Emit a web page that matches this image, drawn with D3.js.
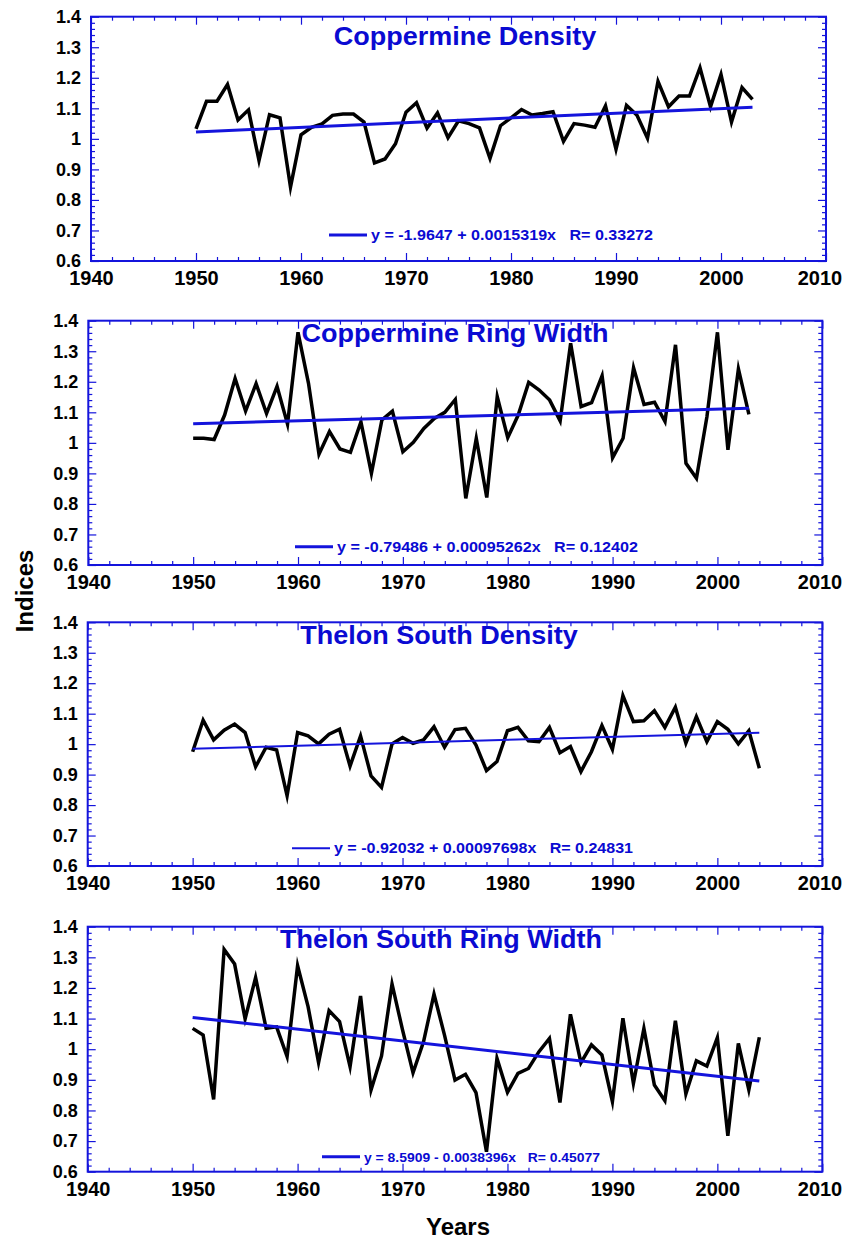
<!DOCTYPE html>
<html><head><meta charset="utf-8">
<script src="https://cdn.jsdelivr.net/npm/d3@7"></script>
<style>
body{margin:0;background:#fff}
text{font-family:"Liberation Sans",Arial,Helvetica,sans-serif;font-weight:bold}
</style>
</head><body>
<svg id="c" width="845" height="1239"></svg>
<script>
// ---------------- data ----------------
const titles = ["Coppermine Density", "Coppermine Ring Width", "Thelon South Density", "Thelon South Ring Width"];
const startYears = [1950, 1950, 1950, 1950];

const copDensity = [
 1.033,1.123,1.123,1.178,1.062,1.095,0.929,1.079,1.069,0.842,
 1.013,1.038,1.049,1.077,1.081,1.081,1.055,0.921,0.934,0.984,
 1.087,1.118,1.035,1.085,1.004,1.059,1.050,1.036,0.936,1.043,
 1.069,1.096,1.078,1.083,1.089,0.992,1.050,1.045,1.038,1.108,
 0.966,1.110,1.077,1.002,1.188,1.105,1.140,1.140,1.233,1.105,
 1.211,1.055,1.168,1.129];
const copRingWidth = [
 1.015,1.015,1.011,1.091,1.211,1.104,1.194,1.096,1.185,1.061,
 1.362,1.195,0.963,1.037,0.980,0.969,1.069,0.900,1.075,1.104,
 0.971,1.002,1.047,1.080,1.100,1.142,0.818,1.015,0.821,1.151,
 1.017,1.091,1.198,1.173,1.140,1.072,1.326,1.119,1.132,1.220,
 0.951,1.015,1.246,1.126,1.133,1.070,1.321,0.933,0.884,1.086,
 1.362,0.977,1.242,1.093];
const thelDensity = [
 0.975,1.079,1.014,1.046,1.066,1.038,0.926,0.990,0.981,0.831,
 1.038,1.027,1.001,1.033,1.049,0.928,1.027,0.896,0.858,1.001,
 1.022,1.003,1.014,1.057,0.990,1.048,1.052,0.997,0.913,0.943,
 1.044,1.055,1.011,1.008,1.055,0.972,0.992,0.910,0.975,1.061,
 0.983,1.159,1.074,1.077,1.110,1.055,1.121,1.003,1.090,1.008,
 1.074,1.049,1.001,1.044,0.921];
const thelRingWidth = [
 1.068,1.046,0.836,1.326,1.278,1.099,1.234,1.068,1.073,0.976,
 1.273,1.139,0.956,1.126,1.090,0.943,1.174,0.867,0.978,1.213,
 1.063,0.923,1.024,1.180,1.046,0.899,0.918,0.858,0.665,0.970,
 0.859,0.921,0.937,0.992,1.035,0.826,1.114,0.956,1.014,0.981,
 0.829,1.101,0.888,1.068,0.883,0.832,1.093,0.854,0.962,0.945,
 1.038,0.717,1.019,0.867,1.039];
const seriesValues = [copDensity, copRingWidth, thelDensity, thelRingWidth];

const fitIntercepts = [-1.9647, -0.79486, -0.92032, 8.5909];
const fitSlopes = [0.0015319, 0.00095262, 0.00097698, -0.0038396];
const fitLabels = [
 "y = -1.9647 + 0.0015319x   R= 0.33272",
 "y = -0.79486 + 0.00095262x   R= 0.12402",
 "y = -0.92032 + 0.00097698x   R= 0.24831",
 "y = 8.5909 - 0.0038396x   R= 0.45077"];

const xTicks = [1940, 1950, 1960, 1970, 1980, 1990, 2000, 2010];
const yTicks = [0.6, 0.7, 0.8, 0.9, 1.0, 1.1, 1.2, 1.3, 1.4];
const xDomain = [1940, 2010];
const yDomain = [0.6, 1.4];

// ---------------- layout (not data) ----------------
const panels = [
 {l:91,   r:826,   t:16.7,  b:261,   titleX:465, titleY:45,    legX:329, legY:235,   legW:3, legFont:14,   legLen:282, trendW:3},
 {l:88.3, r:822.3, t:320.7, b:565,   titleX:455, titleY:342,   legX:295, legY:546.7, legW:3, legFont:14,   legLen:301, trendW:3},
 {l:87.7, r:822.3, t:622.3, b:866,   titleX:439, titleY:644.3, legX:292, legY:848.3, legW:2, legFont:14,   legLen:299, trendW:2},
 {l:87.7, r:822.3, t:926.7, b:1171.7,titleX:441, titleY:948.3, legX:322, legY:1156.7,legW:3, legFont:12.5, legLen:236, trendW:3}
];
const BLUE = "#1414dc";
const TXTBLUE = "#0a0ad2";
const TITLE_STRETCH = 1.08;

const svg = d3.select("#c");

panels.forEach((p, i) => {
  const x = d3.scaleLinear().domain(xDomain).range([p.l, p.r]);
  const y = d3.scaleLinear().domain(yDomain).range([p.b, p.t]);
  const g = svg.append("g");

  const xMinor = d3.range(1940, 2011, 2).filter(v => v % 10 !== 0);
  const yMinor = d3.range(60, 141, 2).filter(v => v % 10 !== 0).map(v => v / 100);

  // bottom axis (labels + inward ticks)
  const gb = g.append("g").attr("transform", `translate(0,${p.b})`)
    .call(d3.axisBottom(x).tickValues(xTicks).tickSize(-8).tickPadding(10).tickFormat(d3.format("d")));
  g.append("g").attr("transform", `translate(0,${p.b})`)
    .call(d3.axisBottom(x).tickValues(xMinor).tickSize(-4).tickFormat(""));
  // top axis
  g.append("g").attr("transform", `translate(0,${p.t})`)
    .call(d3.axisTop(x).tickValues(xTicks).tickSize(-8).tickFormat(""));
  g.append("g").attr("transform", `translate(0,${p.t})`)
    .call(d3.axisTop(x).tickValues(xMinor).tickSize(-4).tickFormat(""));
  // left axis
  const gl = g.append("g").attr("transform", `translate(${p.l},0)`)
    .call(d3.axisLeft(y).tickValues(yTicks).tickSize(-8).tickPadding(10).tickFormat(d => d3.format("~g")(d)));
  g.append("g").attr("transform", `translate(${p.l},0)`)
    .call(d3.axisLeft(y).tickValues(yMinor).tickSize(-4).tickFormat(""));
  // right axis
  g.append("g").attr("transform", `translate(${p.r},0)`)
    .call(d3.axisRight(y).tickValues(yTicks).tickSize(-8).tickFormat(""));
  g.append("g").attr("transform", `translate(${p.r},0)`)
    .call(d3.axisRight(y).tickValues(yMinor).tickSize(-4).tickFormat(""));

  g.selectAll(".domain").remove();
  g.selectAll(".tick line").attr("stroke", BLUE).attr("stroke-width", 1.2);
  gb.selectAll(".tick text").attr("fill", "#000").attr("font-size", 20)
    .attr("font-family", '"Liberation Sans",Arial,sans-serif').attr("font-weight", "bold")
    .attr("dx", d => {
      const right = x(d) + 22.5;
      return right > 842 ? (842 - right) : 0;
    });
  gl.selectAll(".tick text").attr("fill", "#000").attr("font-size", 18)
    .attr("font-family", '"Liberation Sans",Arial,sans-serif').attr("font-weight", "bold");

  // frame
  g.append("rect").attr("x", p.l).attr("y", p.t).attr("width", p.r - p.l).attr("height", p.b - p.t)
    .attr("fill", "none").attr("stroke", BLUE).attr("stroke-width", 2);

  // series
  const vals = seriesValues[i];
  const data = vals.map((v, k) => ({yr: startYears[i] + k, v}));
  g.append("path").datum(data)
    .attr("fill", "none").attr("stroke", "#000").attr("stroke-width", 3.5)
    .attr("stroke-linejoin", "miter").attr("stroke-miterlimit", 6)
    .attr("d", d3.line().x(d => x(d.yr)).y(d => y(d.v)));

  // trend line
  const y0 = data[0].yr, y1 = data[data.length - 1].yr;
  const fit = yr => fitIntercepts[i] + fitSlopes[i] * yr;
  g.append("line").attr("x1", x(y0)).attr("y1", y(fit(y0))).attr("x2", x(y1)).attr("y2", y(fit(y1)))
    .attr("stroke", BLUE).attr("stroke-width", p.trendW);

  // title
  g.append("text").attr("transform", `translate(${p.titleX},${p.titleY}) scale(${TITLE_STRETCH},1)`)
    .attr("text-anchor", "middle")
    .attr("fill", TXTBLUE).attr("font-size", 25).text(titles[i]);

  // legend
  g.append("line").attr("x1", p.legX).attr("x2", p.legX + 38).attr("y1", p.legY).attr("y2", p.legY)
    .attr("stroke", BLUE).attr("stroke-width", p.legW);
  g.append("text").attr("x", p.legX + 42).attr("y", p.legY + 5).attr("fill", TXTBLUE)
    .attr("font-size", p.legFont).attr("xml:space", "preserve").style("white-space", "pre")
    .attr("textLength", p.legLen).attr("lengthAdjust", "spacingAndGlyphs")
    .text(fitLabels[i]);
});

// axis titles
svg.append("text").attr("transform", "translate(33,591) rotate(-90)").attr("text-anchor", "middle")
  .attr("font-size", 24).attr("fill", "#000").text("Indices");
svg.append("text").attr("x", 458).attr("y", 1235).attr("text-anchor", "middle")
  .attr("font-size", 24).attr("fill", "#000").text("Years");
</script>
</body></html>
